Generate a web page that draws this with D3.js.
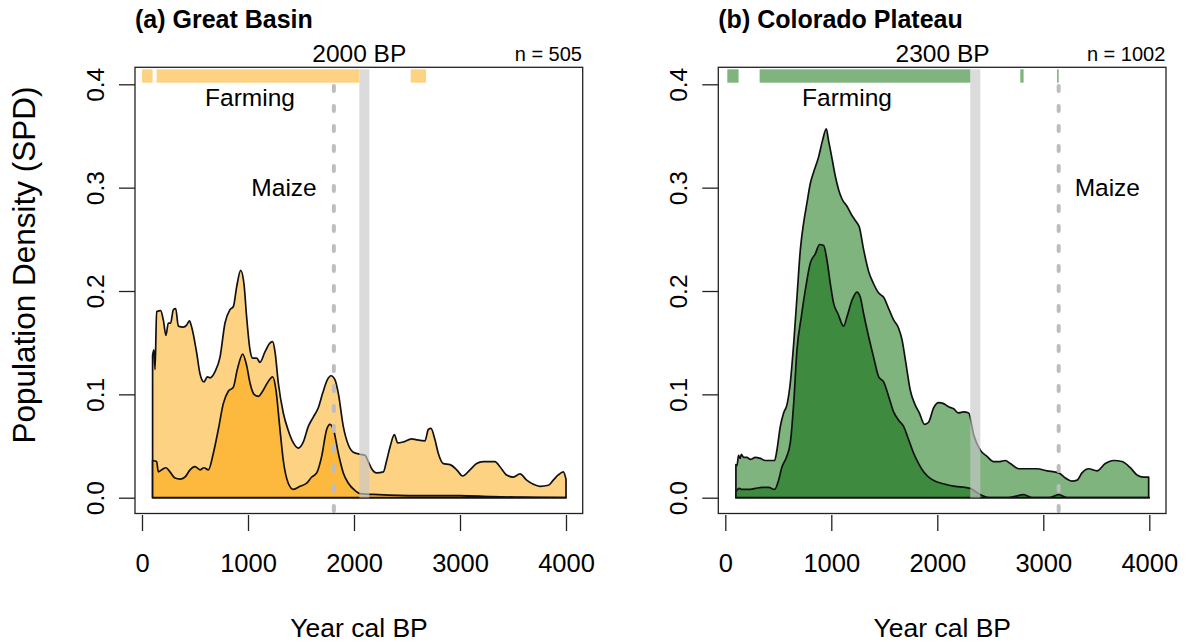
<!DOCTYPE html>
<html>
<head>
<meta charset="utf-8">
<script src="https://cdn.jsdelivr.net/npm/d3@7"></script>
<style>
  body { margin: 0; background: #fff; }
  svg { font-family: "Liberation Sans", Arial, sans-serif; }
</style>
</head>
<body>
<svg width="1187" height="643"></svg>
<script>
// ---- data: [year cal BP, SPD] ----
const gbAll = [[100,0.138],[113,0.143],[123,0.124],[138,0.180],[176,0.181],[201,0.172],[226,0.157],[248,0.169],[270,0.169],[296,0.182],[318,0.183],[343,0.166],[390,0.165],[421,0.167],[447,0.171],[469,0.165],[516,0.140],[547,0.120],[585,0.112],[616,0.117],[642,0.116],[689,0.122],[736,0.136],[783,0.169],[830,0.182],[862,0.185],[893,0.204],[931,0.220],[962,0.207],[987,0.175],[1019,0.143],[1044,0.135],[1082,0.135],[1113,0.131],[1160,0.141],[1201,0.149],[1233,0.151],[1255,0.141],[1286,0.111],[1333,0.082],[1380,0.065],[1428,0.053],[1475,0.048],[1522,0.054],[1569,0.069],[1616,0.078],[1663,0.087],[1704,0.101],[1748,0.114],[1783,0.118],[1821,0.114],[1852,0.101],[1899,0.069],[1947,0.051],[1994,0.044],[2057,0.042],[2104,0.041],[2135,0.035],[2167,0.028],[2214,0.024],[2277,0.025],[2308,0.036],[2340,0.049],[2381,0.061],[2412,0.053],[2466,0.054],[2544,0.057],[2591,0.056],[2670,0.055],[2701,0.066],[2726,0.067],[2764,0.056],[2795,0.043],[2843,0.033],[2906,0.032],[2969,0.027],[3025,0.021],[3094,0.027],[3157,0.033],[3220,0.035],[3330,0.035],[3377,0.030],[3440,0.022],[3503,0.020],[3566,0.023],[3629,0.017],[3692,0.013],[3755,0.011],[3833,0.012],[3880,0.017],[3927,0.022],[3975,0.025],[4000,0.018]];

const gbSub = [[100,0.036],[138,0.035],[154,0.025],[186,0.027],[226,0.029],[264,0.025],[311,0.019],[358,0.018],[406,0.020],[453,0.027],[500,0.030],[547,0.027],[585,0.029],[626,0.027],[673,0.043],[720,0.066],[767,0.091],[814,0.103],[862,0.107],[899,0.124],[950,0.139],[987,0.128],[1019,0.111],[1057,0.100],[1097,0.098],[1138,0.103],[1182,0.111],[1233,0.117],[1264,0.104],[1296,0.072],[1333,0.036],[1380,0.014],[1428,0.008],[1491,0.011],[1553,0.014],[1601,0.020],[1648,0.024],[1695,0.040],[1742,0.066],[1774,0.071],[1811,0.064],[1852,0.043],[1899,0.024],[1947,0.014],[2009,0.007],[2057,0.004],[2230,0.003],[2600,0.002],[3000,0.002],[3300,0.001],[3600,0.0005],[4000,0]];

const cpAll = [[100,0.032],[110,0.031],[125,0.041],[140,0.038],[151,0.042],[173,0.039],[204,0.039],[236,0.037],[283,0.039],[330,0.038],[377,0.036],[465,0.036],[487,0.046],[519,0.069],[550,0.082],[582,0.090],[613,0.111],[645,0.149],[676,0.194],[708,0.240],[739,0.266],[770,0.285],[802,0.304],[833,0.315],[881,0.330],[918,0.346],[953,0.357],[975,0.345],[1000,0.332],[1038,0.311],[1069,0.298],[1101,0.289],[1148,0.282],[1195,0.273],[1242,0.266],[1264,0.262],[1305,0.240],[1352,0.219],[1399,0.207],[1447,0.198],[1494,0.194],[1541,0.183],[1588,0.172],[1635,0.164],[1667,0.153],[1704,0.130],[1745,0.104],[1786,0.091],[1830,0.082],[1880,0.071],[1918,0.073],[1965,0.087],[2013,0.092],[2060,0.091],[2107,0.088],[2154,0.086],[2201,0.082],[2248,0.083],[2296,0.082],[2343,0.061],[2406,0.046],[2469,0.040],[2531,0.035],[2590,0.035],[2642,0.036],[2689,0.033],[2767,0.028],[2846,0.028],[2940,0.028],[3035,0.026],[3145,0.024],[3208,0.019],[3270,0.016],[3320,0.017],[3365,0.024],[3428,0.028],[3506,0.026],[3585,0.033],[3664,0.036],[3742,0.035],[3821,0.029],[3884,0.022],[3947,0.020],[3994,0.020]];

const cpSub = [[100,0.006],[132,0.009],[157,0.008],[220,0.008],[283,0.009],[346,0.010],[409,0.010],[465,0.008],[503,0.017],[535,0.030],[572,0.038],[613,0.053],[645,0.091],[676,0.143],[717,0.175],[755,0.201],[802,0.227],[849,0.236],[890,0.245],[928,0.244],[959,0.230],[991,0.207],[1022,0.188],[1063,0.178],[1116,0.166],[1148,0.175],[1195,0.191],[1242,0.199],[1274,0.194],[1305,0.178],[1352,0.156],[1399,0.136],[1447,0.117],[1494,0.112],[1541,0.098],[1588,0.083],[1635,0.075],[1682,0.069],[1730,0.056],[1777,0.043],[1824,0.033],[1871,0.025],[1918,0.020],[1981,0.016],[2075,0.013],[2170,0.011],[2264,0.010],[2311,0.009],[2406,0.003],[2500,0.0],[2650,0.0],[2720,0.001],[2814,0.003],[2900,0.0],[3050,0.0],[3145,0.003],[3230,0.0],[4000,0]];

// farming periods (start, end) shown as bars along the top
const gbFarming = [[0,100],[138,2050],[2535,2680]];
const cpFarming = [[19,125],[324,2311],[2783,2814],[3130,3145]];

// grey band, maize line
const gbBand = [2050, 2145];
const cpBand = [2311, 2406];
const gbMaize = 1810;
const cpMaize = 3145;

const xTicks = [0, 1000, 2000, 3000, 4000];
const yTicks = [0, 0.1, 0.2, 0.3, 0.4];

const svg = d3.select("svg");

const panels = [
  { offset: 0, title: "(a) Great Basin", all: gbAll, sub: gbSub, farming: gbFarming,
    band: gbBand, maize: gbMaize, bpLabel: "2000 BP", n: "n = 505",
    light: "#fdd283", dark: "#fdb93e", farmX: 1019, maizeX: 1340 },
  { offset: 583.3, title: "(b) Colorado Plateau", all: cpAll, sub: cpSub, farming: cpFarming,
    band: cpBand, maize: cpMaize, bpLabel: "2300 BP", n: "n = 1002",
    light: "#7fb47f", dark: "#3e8a3e", farmX: 1148, maizeX: 3604 }
];

panels.forEach(p => {
  const ox = p.offset;
  const x = d3.scaleLinear().domain([0, 4000]).range([ox + 142, ox + 566]);
  const y = d3.scaleLinear().domain([0, 0.4]).range([497.7, 84.3]);
  const g = svg.append("g");

  const area = d3.area()
    .x(d => x(d[0]))
    .y0(y(0))
    .y1(d => y(d[1]))
    .curve(d3.curveMonotoneX);

  // all dates, then the subset on top
  g.append("path").datum(p.all).attr("d", area)
    .attr("fill", p.light).attr("stroke", "#111").attr("stroke-width", 1.7)
    .attr("stroke-linejoin", "round");
  g.append("path").datum(p.sub).attr("d", area)
    .attr("fill", p.dark).attr("stroke", "#111").attr("stroke-width", 1.7)
    .attr("stroke-linejoin", "round");

  // grey band
  g.append("rect")
    .attr("x", x(p.band[0])).attr("width", x(p.band[1]) - x(p.band[0]))
    .attr("y", 69.3).attr("height", y(0) - 69.3)
    .attr("fill", "#c8c8c8").attr("opacity", 0.65);

  // maize arrival
  g.append("line")
    .attr("x1", x(p.maize)).attr("x2", x(p.maize))
    .attr("y1", 86).attr("y2", 514)
    .attr("stroke", "#bdbdbd").attr("stroke-width", 4)
    .attr("stroke-dasharray", "5,15").attr("stroke-linecap", "round");

  // farming bars
  g.selectAll(".farm").data(p.farming).join("rect")
    .attr("class", "farm")
    .attr("x", d => x(d[0])).attr("width", d => x(d[1]) - x(d[0]))
    .attr("y", 69.3).attr("height", 13.4)
    .attr("fill", p.light);

  // box
  g.append("rect")
    .attr("x", ox + 135).attr("y", 67.3).attr("width", 447.7).attr("height", 446.2)
    .attr("fill", "none").attr("stroke", "#222").attr("stroke-width", 1.3);

  // axes
  const xAxis = d3.axisBottom(x).tickValues(xTicks).tickSize(16).tickPadding(23)
    .tickFormat(d3.format("d"));
  const gx = g.append("g").attr("transform", "translate(0,515)").call(xAxis)
    .attr("font-size", null).attr("font-family", null).attr("color", "#222");
  gx.select(".domain").remove();
  gx.selectAll("line").attr("stroke-width", 1.3);
  gx.selectAll("text").attr("font-size", 25.5).attr("fill", "#000");

  const yAxis = d3.axisLeft(y).tickValues(yTicks).tickSize(16).tickFormat(d3.format(".1f"));
  const gy = g.append("g").attr("transform", `translate(${ox + 135},0)`).call(yAxis)
    .attr("font-size", null).attr("font-family", null).attr("color", "#222");
  gy.select(".domain").remove();
  gy.selectAll("line").attr("stroke-width", 1.3);
  gy.selectAll("text")
    .attr("x", 0).attr("dy", 0)
    .attr("transform", "translate(-31,0) rotate(-90)")
    .attr("text-anchor", "middle")
    .attr("font-size", 24.5).attr("fill", "#000");

  // texts
  g.append("text").attr("x", ox + 135).attr("y", 28)
    .attr("font-size", 25).attr("font-weight", "bold").text(p.title);
  g.append("text").attr("x", x(2050)).attr("y", 61.7).attr("text-anchor", "middle")
    .attr("font-size", 24.5).text(p.bpLabel);
  g.append("text").attr("x", ox + 582).attr("y", 60.7).attr("text-anchor", "end")
    .attr("font-size", 20).text(p.n);
  g.append("text").attr("x", x(p.farmX)).attr("y", 106).attr("text-anchor", "middle")
    .attr("font-size", 24.5).text("Farming");
  g.append("text").attr("x", x(p.maizeX)).attr("y", 196).attr("text-anchor", "middle")
    .attr("font-size", 24.5).text("Maize");
  g.append("text").attr("x", ox + 359).attr("y", 637).attr("text-anchor", "middle")
    .attr("font-size", 26.5).text("Year cal BP");
});

svg.append("text")
  .attr("transform", "translate(35,265) rotate(-90)")
  .attr("text-anchor", "middle")
  .attr("font-size", 31.5)
  .text("Population Density (SPD)");
</script>
</body>
</html>
